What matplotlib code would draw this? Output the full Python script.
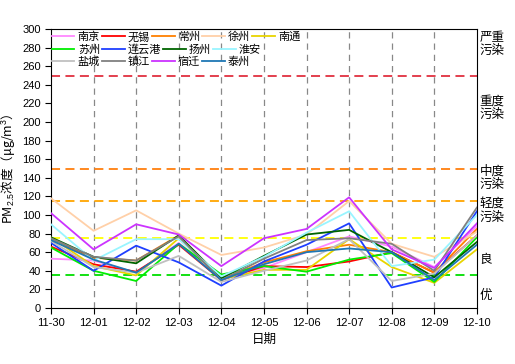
import matplotlib
matplotlib.use('Agg')
from matplotlib import pyplot as plt

plt.rcParams['font.family'] = ['Liberation Sans', 'Noto Sans CJK SC', 'DejaVu Sans']
plt.rcParams['mathtext.fontset'] = 'custom'
plt.rcParams['mathtext.rm'] = 'Liberation Sans'
plt.rcParams['mathtext.it'] = 'Liberation Sans'

dates = ['11-30', '12-01', '12-02', '12-03', '12-04', '12-05',
         '12-06', '12-07', '12-08', '12-09', '12-10']

# PM2.5 per city, one value per date
nanjing = [53, 51, 38, 70, 33, 43, 60, 77, 66, 44, 88]
wuxi = [66, 47, 39, 68, 30, 45, 44, 50, 60, 38, 78]
changzhou = [73, 54, 51, 78, 31, 49, 61, 68, 60, 38, 85]
xuzhou = [118, 83, 105, 80, 57, 65, 79, 115, 69, 55, 82]
nantong = [76, 45, 35, 75, 31, 41, 41, 74, 44, 27, 63]
suzhou = [65, 40, 29, 69, 36, 45, 39, 52, 59, 28, 76]
lianyungang = [70, 40, 67, 49, 24, 50, 68, 91, 22, 33, 104]
yangzhou = [76, 55, 48, 78, 32, 56, 79, 84, 60, 33, 71]
huaian = [90, 51, 74, 74, 34, 55, 81, 104, 45, 52, 100]
yancheng = [72, 44, 38, 56, 28, 40, 51, 74, 29, 37, 78]
zhenjiang = [75, 55, 51, 77, 30, 53, 73, 75, 69, 40, 108]
suqian = [102, 63, 90, 79, 45, 75, 85, 119, 63, 43, 91]
taizhou = [73, 52, 38, 69, 30, 47, 60, 64, 60, 30, 68]

cities = ['南京', '无锡', '常州', '徐州', '南通', '苏州', '连云港',
          '扬州', '淮安', '盐城', '镇江', '宿迁', '泰州']
series = [nanjing, wuxi, changzhou, xuzhou, nantong, suzhou, lianyungang,
          yangzhou, huaian, yancheng, zhenjiang, suqian, taizhou]
colors = ['#FF88FF', '#FF0000', '#FF8000', '#FFD0A8', '#E8D400', '#00EE00',
          '#1F3FFF', '#006400', '#99F5FF', '#C0C0C0', '#808080', '#CC33FF',
          '#1F77B4']

# air quality thresholds
levels = [35, 75, 115, 150, 250]
level_colors = ['#00DD00', '#FFFF00', '#FFA500', '#FF7F0E', '#E03040']
level_names = ['优', '良', '轻度\n污染', '中度\n污染', '重度\n污染', '严重\n污染']
level_pos = [13, 52, 104, 140, 215, 283]

fig = plt.figure(figsize=(5.15, 3.64), dpi=100)
ax = fig.add_axes([0.099, 0.154, 0.827, 0.766])

x = list(range(len(dates)))

for xi in x[1:-1]:
    ax.axvline(xi, color='#888888', linestyle=(0, (5, 4)), linewidth=0.9, zorder=1)

for lv, c in zip(levels, level_colors):
    ax.axhline(lv, color=c, linestyle=(0, (5, 3)), linewidth=1.3, zorder=2)

handles = []
for name, vals, c in zip(cities, series, colors):
    h, = ax.plot(x, vals, color=c, linewidth=1.3, label=name, zorder=3)
    handles.append(h)

ax.set_xlim(0, len(dates) - 1)
ax.set_ylim(0, 300)
ax.set_xticks(x)
ax.set_xticklabels(dates, fontsize=8)
ax.set_yticks(range(0, 301, 20))
ax.tick_params(axis='y', labelsize=8, length=4)
ax.tick_params(axis='x', length=4)
ax.set_xlabel('日期', fontsize=9)
# non-math parts of a mathtext string use the text's first family
ax.set_ylabel(r'PM$_{2.5}$浓度（μg/m$^{3}$）', fontsize=9, labelpad=3,
              family=['Noto Sans CJK SC'])

for name, pos in zip(level_names, level_pos):
    ax.text(1.006, pos, name, transform=ax.get_yaxis_transform(),
            fontsize=9, va='center', ha='left', linespacing=1.1)

# legend flows row by row, so build one legend per row
rows = [(0, 5), (5, 9), (9, 13)]
row_y = [0.972, 0.927, 0.882]
legs = []
for (a, b), yy in zip(rows, row_y):
    leg = ax.legend(handles[a:b], cities[a:b], ncol=b - a, loc='center left',
                    bbox_to_anchor=(0.003, yy), frameon=False, fontsize=8,
                    handlelength=2.0, handletextpad=0.3, columnspacing=0.2,
                    borderpad=0, borderaxespad=0)
    legs.append(leg)
# the last one stays as ax.legend_, the others are added as artists
for leg in legs[:-1]:
    ax.add_artist(leg)

fig.savefig('out.png', dpi=100)
